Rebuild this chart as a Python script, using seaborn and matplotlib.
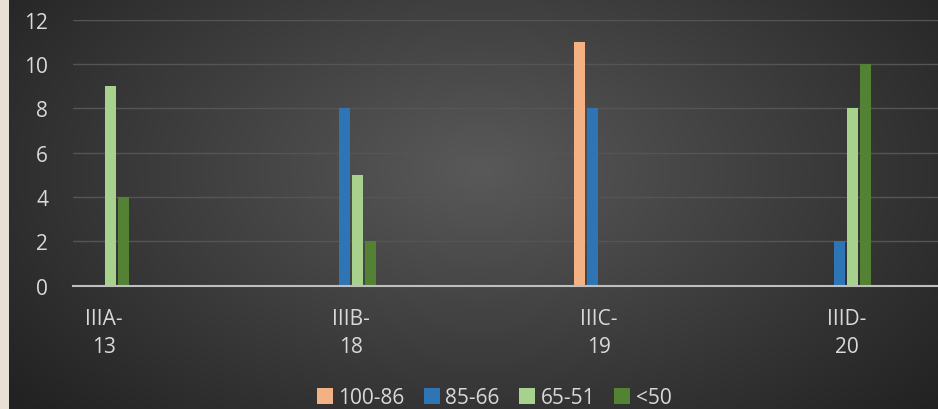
import numpy as np
import pandas as pd
import matplotlib
matplotlib.use("Agg")
import matplotlib.pyplot as plt
import seaborn as sns

categories = ["IIIA-\n13", "IIIB-\n18", "IIIC-\n19", "IIID-\n20"]
series = ["100-86", "85-66", "65-51", "<50"]
v_100_86 = [0, 0, 11, 0]
v_85_66 = [0, 8, 8, 2]
v_65_51 = [9, 5, 0, 8]
v_lt50 = [4, 2, 0, 10]
colors = ["#F4B183", "#2E75B6", "#A9D18E", "#548235"]

rows = []
for s, vals in zip(series, [v_100_86, v_85_66, v_65_51, v_lt50]):
    for c, v in zip(categories, vals):
        rows.append({"cat": c, "series": s, "value": v})
df = pd.DataFrame(rows)

sns.set_style("dark")
plt.rcParams["font.family"] = ["Open Sans", "DejaVu Sans"]
txt = "#D9D9D9"

W, H = 938, 410
fig = plt.figure(figsize=(W / 100, H / 100), dpi=100)

# background: beige strip + radial dark gradient
bg = fig.add_axes([0, 0, 1, 1])
yy, xx = np.mgrid[0:H, 0:W]
r = np.sqrt(((xx - 480) / 560) ** 2 + ((yy - 170) / 330) ** 2)
g = np.clip(0.35 - 0.2 * r, 0.13, 0.35)
img = np.dstack([g, g, g])
img[:, :9] = np.array([230, 224, 213]) / 255
bg.imshow(img, aspect="auto", extent=[0, W, H, 0])
bg.axis("off")

left, right = 73 / W, 1.0
bottom, top = 1 - 286.7 / H, 1 - 20.7 / H
ax = fig.add_axes([left, bottom, right - left, top - bottom])
ax.patch.set_alpha(0)

sns.barplot(data=df, x="cat", y="value", hue="series", hue_order=series,
            palette=colors, width=0.21, gap=0.15, ax=ax, legend=True,
            edgecolor="none", saturation=1)

ax.set_xlim(-0.125, 3.37)
ax.set_ylim(0, 12)
ax.set_yticks(range(0, 13, 2))
ax.grid(axis="y", color="#555555", linewidth=1)
ax.grid(axis="x", visible=False)
ax.set_axisbelow(True)
for s in ["top", "right", "left"]:
    ax.spines[s].set_visible(False)
ax.spines["bottom"].set_color("#BFBFBF")
ax.spines["bottom"].set_linewidth(1.5)
ax.tick_params(axis="both", length=0, colors=txt, labelsize=15)
ax.tick_params(axis="y", pad=18)
ax.tick_params(axis="x", pad=16)
for lab in ax.get_xticklabels():
    lab.set_linespacing(1.45)
ax.set_xlabel("")
ax.set_ylabel("")

handles, labels = ax.get_legend_handles_labels()
ax.get_legend().remove()
fig.legend(handles, labels, loc="center", bbox_to_anchor=(494 / W, 1 - 399 / H),
           ncol=4, frameon=False, fontsize=15, handlelength=0.8,
           handleheight=0.8, handletextpad=0.25, columnspacing=0.9,
           labelcolor=txt)

fig.savefig("out.png", dpi=100)
